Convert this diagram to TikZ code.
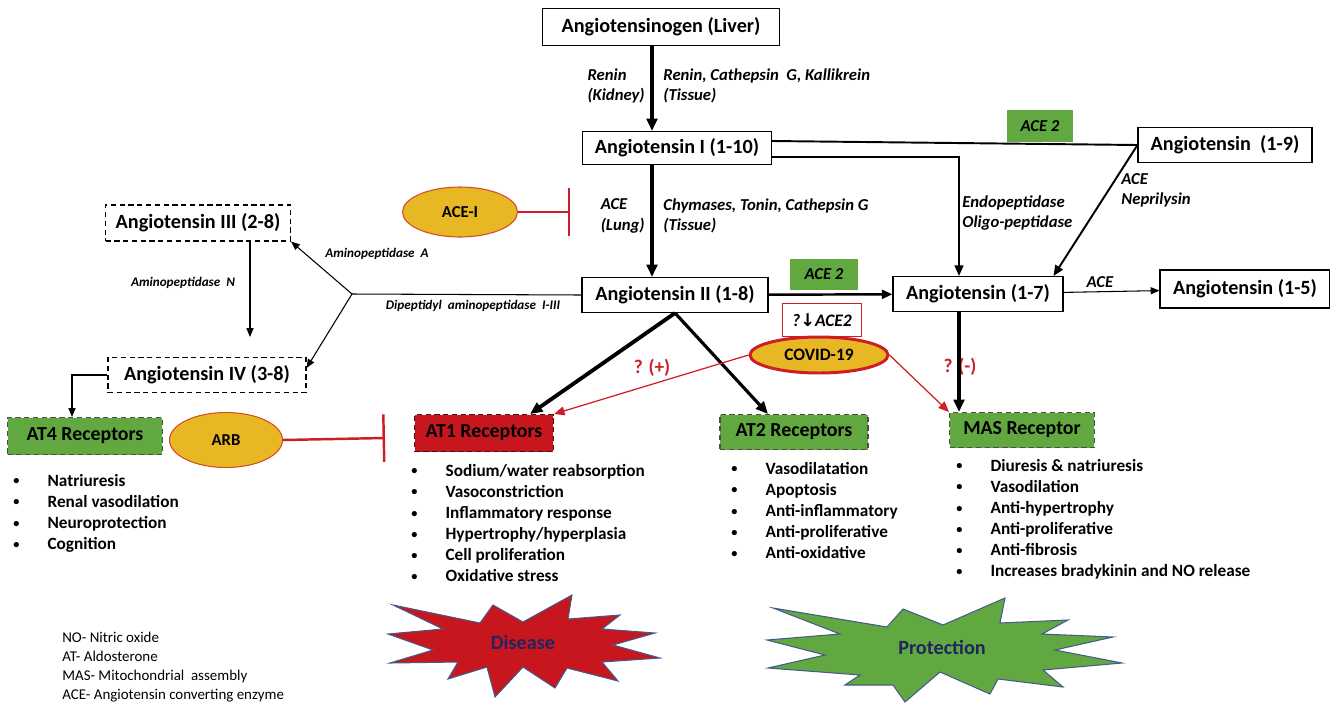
\documentclass[tikz,border=0pt]{standalone}
\usepackage{fontspec}
\setmainfont{Carlito}
\newfontfamily\symfont{DejaVu Sans}
\usepackage{tikz}
\usetikzlibrary{positioning, arrows.meta, calc, shapes.geometric}

\definecolor{recgreen}{RGB}{98,168,64}
\definecolor{recred}{RGB}{200,22,30}
\definecolor{drug}{RGB}{232,184,36}
\definecolor{covred}{RGB}{204,30,36}
\definecolor{navy}{RGB}{32,38,96}
\definecolor{starblue}{RGB}{70,90,140}

\newcommand{\itm}[1]{\makebox[19.5pt][l]{\raisebox{0.9pt}{\fontsize{7}{7}\selectfont\textbullet}}#1}

\begin{document}
\begin{tikzpicture}[x=0.02cm, y=-0.02cm]
	% Define styles
	\tikzset{
		block/.style={rectangle, draw, line width=0.6pt, fill=white, font=\fontsize{11.5}{13}\selectfont\bfseries, inner sep=0pt},
		dblock/.style={block, densely dashed},
		recept/.style={rectangle, draw=black!70, densely dashed, line width=0.6pt, font=\fontsize{11.3}{13}\selectfont\bfseries, inner sep=0pt},
		enz/.style={rectangle, fill=recgreen, font=\fontsize{9.5}{11}\selectfont\bfseries\itshape, inner sep=0pt},
		drugs/.style={ellipse, draw=covred!70!drug, fill=drug, line width=0.6pt, font=\fontsize{9.5}{11}\selectfont\bfseries, inner sep=0pt},
		lbl/.style={font=\fontsize{9.5}{11.5}\selectfont\bfseries\itshape, align=left, inner sep=0pt},
		slbl/.style={font=\fontsize{7.5}{9}\selectfont\bfseries\itshape, inner sep=0pt},
		list/.style={font=\fontsize{9.8}{12}\selectfont\bfseries, align=left, inner sep=0pt, anchor=north west},
		link/.style={draw, line width=0.6pt},
		line/.style={draw, line width=0.6pt, -{Triangle[length=5pt, width=4pt]}},
		mid/.style={draw, line width=1.1pt, -{Triangle[length=6pt, width=5pt]}},
		heavy/.style={draw, line width=1.8pt, -{Triangle[length=7pt, width=6pt]}},
		inhib/.style={draw=covred, line width=1.4pt, -{Bar[width=0.95cm, line width=1.4pt]}},
		risk/.style={draw=covred, line width=0.7pt, -{Triangle[length=6pt, width=5pt]}},
		burst/.style={draw=starblue, line width=0.6pt, line join=miter},
		bursttext/.style={text=navy, font=\fontsize{11.5}{13}\selectfont\bfseries}
	}
	\useasboundingbox (0,0) rectangle (1330,704);
	% Nodes
	\node[block, minimum width=4.74cm, minimum height=0.74cm] (ang0) at (661,27) {Angiotensinogen (Liver)};
	\node[block, minimum width=3.78cm, minimum height=0.66cm] (ang1) at (677,148) {Angiotensin I (1-10)};
	\node[block, minimum width=3.48cm, minimum height=0.70cm] (ang9) at (1225,145) {Angiotensin\ \ (1-9)};
	\node[block, minimum width=3.72cm, minimum height=0.70cm] (ang2) at (675,295) {Angiotensin II (1-8)};
	\node[block, minimum width=3.40cm, minimum height=0.70cm] (ang7) at (978,294) {Angiotensin (1-7)};
	\node[block, minimum width=3.40cm, minimum height=0.76cm] (ang5) at (1245,289) {Angiotensin (1-5)};
	\node[dblock, minimum width=3.70cm, minimum height=0.72cm] (ang3) at (198,223) {Angiotensin III (2-8)};
	\node[dblock, minimum width=3.96cm, minimum height=0.70cm] (ang4) at (207,375) {Angiotensin IV (3-8)};
	
	\node[enz, minimum width=1.32cm, minimum height=0.64cm] (ace2a) at (1040,126) {ACE 2};
	\node[enz, minimum width=1.36cm, minimum height=0.62cm] (ace2b) at (824,274) {ACE 2};
	\node[rectangle, draw=covred, line width=1.1pt, fill=white, minimum width=1.58cm, minimum height=0.66cm, inner sep=0pt, font=\fontsize{10}{12}\selectfont\bfseries\itshape] (aceq) at (822,320) {?{\symfont\upshape ↓}ACE2};
	\node[drugs, draw=covred, line width=1.7pt, minimum width=2.76cm, minimum height=0.72cm, font=\fontsize{9.9}{11}\selectfont\bfseries] (covid) at (819,355) {COVID-19};
	\node[drugs, minimum width=2.30cm, minimum height=1.00cm] (acei) at (460,212) {ACE-I};
	\node[drugs, minimum width=2.26cm, minimum height=1.10cm] (arb) at (226,440) {ARB};
	
	\node[recept, fill=recgreen, minimum width=3.10cm, minimum height=0.74cm] (at4) at (85,436) {AT4 Receptors};
	\node[recept, fill=recred, draw=black!60!recred, minimum width=2.78cm, minimum height=0.74cm] (at1) at (484,433) {AT1 Receptors};
	\node[recept, fill=recgreen, minimum width=2.96cm, minimum height=0.70cm] (at2) at (794,432) {AT2 Receptors};
	\node[recept, fill=recgreen, minimum width=2.90cm, minimum height=0.70cm] (mas) at (1022,430) {MAS Receptor};
	
	% Enzyme labels
	\node[lbl, anchor=east] (renk) at (645,86) {Renin\\(Kidney)};
	\node[lbl, anchor=west] (rent) at (663,86) {Renin, Cathepsin\ \ G, Kallikrein\\(Tissue)};
	\node[lbl, anchor=east] (acel) at (645,216) {ACE\\(Lung)};
	\node[lbl, anchor=west] (chym) at (663,216) {Chymases, Tonin, Cathepsin G\\(Tissue)};
	\node[lbl, anchor=west] (endo) at (962,213) {Endopeptidase\\Oligo-peptidase};
	\node[lbl, anchor=west] (nep) at (1121,190) {ACE\\Neprilysin};
	\node[lbl] (ace15) at (1100,282) {ACE};
	\node[slbl] (apa) at (377,254) {Aminopeptidase\ \ A};
	\node[slbl] (apn) at (183,283) {Aminopeptidase\ \ N};
	\node[slbl] (dpp) at (473,306) {Dipeptidyl\ \ aminopeptidase\ \ I-III};
	\node[font=\fontsize{11}{13}\selectfont\bfseries, text=covred] (plus) at (652,368) {? (+)};
	\node[font=\fontsize{11}{13}\selectfont\bfseries, text=covred] (minus) at (960,367) {? (-)};
	
	% Effects
	\node[list] (l4) at (13,474) {\itm{Natriuresis}\\\itm{Renal vasodilation}\\\itm{Neuroprotection}\\\itm{Cognition}};
	\node[list] (l1) at (411,464) {\itm{Sodium/water reabsorption}\\\itm{Vasoconstriction}\\\itm{Inflammatory response}\\\itm{Hypertrophy/hyperplasia}\\\itm{Cell proliferation}\\\itm{Oxidative stress}};
	\node[list] (l2) at (731,462) {\itm{Vasodilatation}\\\itm{Apoptosis}\\\itm{Anti-inflammatory}\\\itm{Anti-proliferative}\\\itm{Anti-oxidative}};
	\node[list] (lm) at (956,459) {\itm{Diuresis \& natriuresis}\\\itm{Vasodilation}\\\itm{Anti-hypertrophy}\\\itm{Anti-proliferative}\\\itm{Anti-fibrosis}\\\itm{Increases bradykinin and NO release}};
	
	% Outcome bursts
	\draw[burst, fill=recred] (393,605) -- (480,623) -- (493,605) -- (523,622) -- (572,595) -- (568,619)
		-- (620,615) -- (602,629) -- (655,633) -- (613,645) -- (660,658) -- (602,662) -- (618,681)
		-- (567,668) -- (555,688) -- (523,667) -- (495,697) -- (487,667) -- (448,679) -- (458,662)
		-- (390,663) -- (433,650) -- (388,634) -- (443,629) -- cycle;
	\node[bursttext] (dis) at (523,642) {Disease};
	\draw[burst, fill=recgreen] (773,608) -- (887,627) -- (903,609) -- (943,625) -- (1005,598) -- (1000,623)
		-- (1068,620) -- (1042,634) -- (1113,637) -- (1055,650) -- (1122,663) -- (1043,670) -- (1063,687)
		-- (998,679) -- (990,694) -- (940,672) -- (905,702) -- (893,685) -- (845,685) -- (860,675)
		-- (768,668) -- (825,655) -- (767,640) -- (840,634) -- cycle;
	\node[bursttext] (prot) at (942,647) {Protection};
	
	\node[anchor=north west, align=left, inner sep=0pt, font=\fontsize{8.5}{10.8}\selectfont] (legend) at (62,632) {NO- Nitric oxide\\AT- Aldosterone\\MAS- Mitochondrial\ \ assembly\\ACE- Angiotensin converting enzyme};
	
	% Arrows
	\coordinate (axis) at (652,0);
	\coordinate (col7) at (959,0);
	\coordinate (col4) at (72,0);
	\coordinate (br) at (352,294);
	\coordinate (ncut) at (250,337);
	\coordinate (aceblk) at (570,212);
	\coordinate (arbblk) at (385,438);
	
	\draw[heavy, line width=2.2pt] (ang0.south -| axis) -- (ang1.north -| axis);
	\draw[heavy, line width=2.2pt] (ang1.south -| axis) -- (ang2.north -| axis);
	\draw[link, line width=1.1pt] ([yshift=0.14cm]ang1.east) -- (ang9.west);
	\draw[mid] ([yshift=-0.18cm]ang1.east) -| (ang7.north -| col7);
	\draw[mid] (ang9.west) -- ([xshift=-0.2cm]ang7.north east);
	\draw[mid, line width=1.4pt] (ang2) -- (ang7);
	\draw[line] (ang7) -- (ang5);
	\draw[heavy] (ang7.south -| col7) -- (mas.north -| col7);
	
	\draw[link] (ang2.west) -- (br);
	\draw[line] (br) -- (ang3.south east);
	\draw[line] (br) -- ([yshift=0.14cm]ang4.east);
	\draw[line] (ang3.south -| ncut) -- (ncut);
	\draw[line] (ang4.west) -| (at4.north -| col4);
	
	\draw[heavy, line width=2.2pt] (ang2.south) -- ([xshift=-0.48cm]at1.north east);
	\draw[heavy] (ang2.south) -- ([xshift=-0.52cm]at2.north);
	
	\draw[risk] (covid.west) -- (at1.north east);
	\draw[risk] (covid.east) -- (mas.north west);
	
	\draw[inhib] (acei.east) -- (aceblk);
	\draw[inhib] (arb.east) -- (arbblk);
\end{tikzpicture}
\end{document}
